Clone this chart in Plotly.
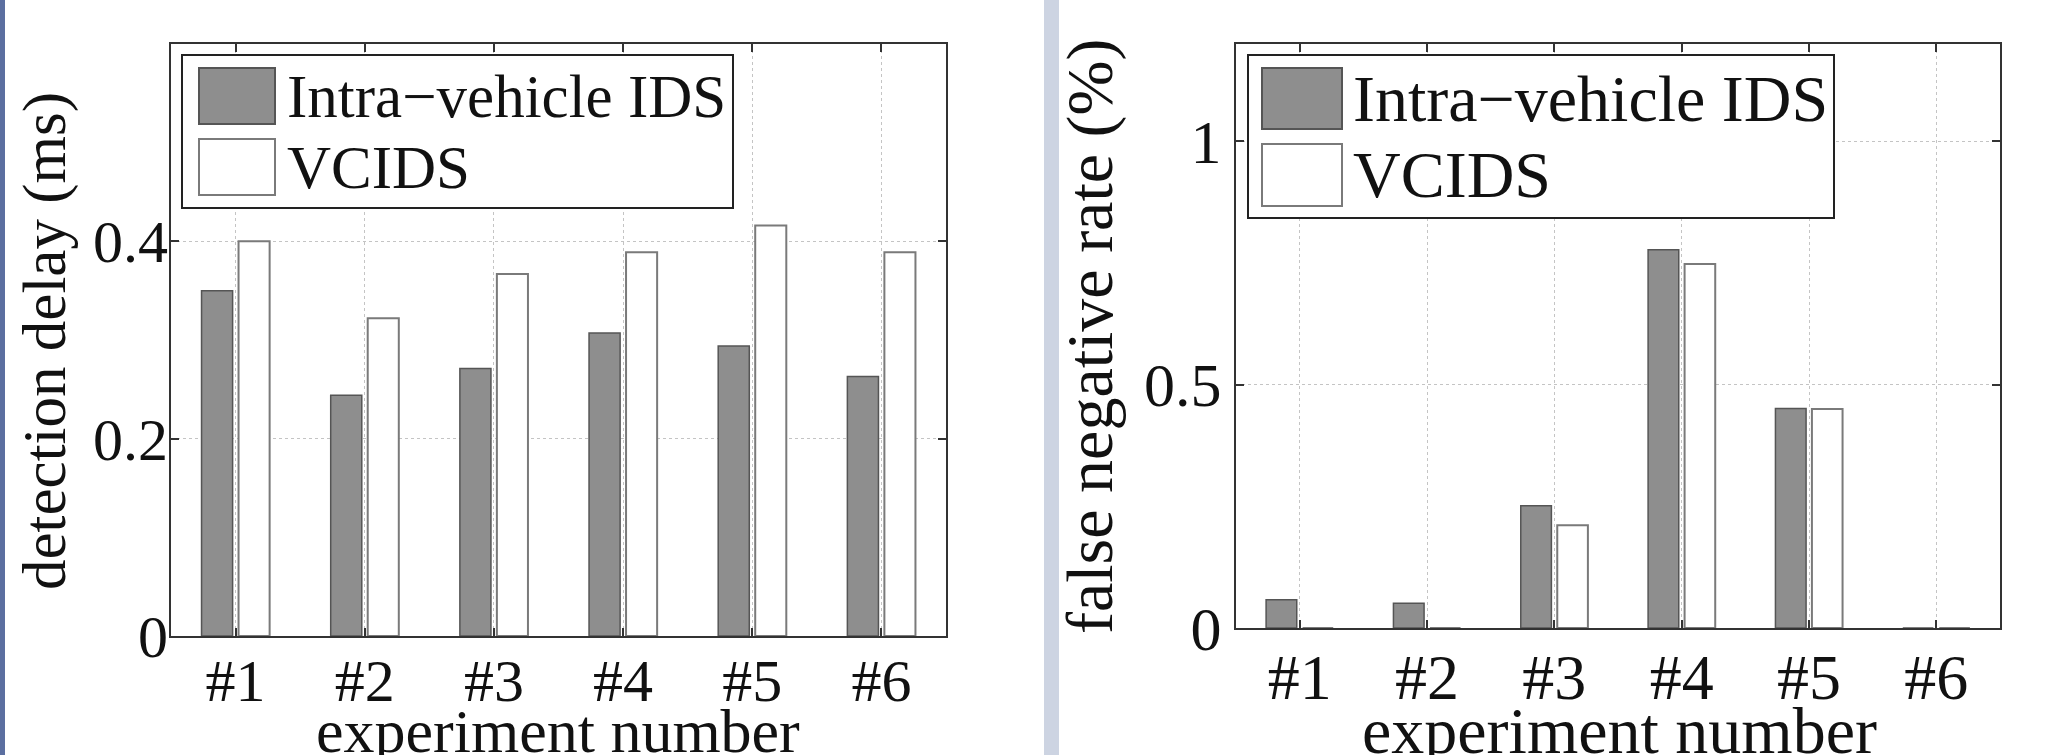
import plotly.graph_objects as go

W, H = 2047, 755

categories = ["#1", "#2", "#3", "#4", "#5", "#6"]
series_names = ["Intra\u2212vehicle IDS", "VCIDS"]
delay_intra = [0.350, 0.244, 0.271, 0.307, 0.294, 0.263]
delay_vcids = [0.400, 0.322, 0.367, 0.389, 0.416, 0.389]
fnr_intra = [0.058, 0.051, 0.251, 0.777, 0.451, 0.0]
fnr_vcids = [0.0, 0.0, 0.211, 0.748, 0.450, 0.0]
left_yticks = [0, 0.2, 0.4]
right_yticks = [0, 0.5, 1]
left_ylabel = "detection delay (ms)"
right_ylabel = "false negative rate (%)"
xlabel = "experiment number"

GRAY = "#8e8e8e"
GRAY_LINE = "#555555"
WHITE_LINE = "#7a7a7a"
FONT = "Liberation Serif, Times New Roman, DejaVu Serif, serif"
TXT = "#111111"


def px(x):
    return x / W


def py(y):
    return 1 - y / H


fig = go.Figure()

for xa, ya, vals_a, vals_b in [("x", "y", delay_intra, delay_vcids),
                               ("x2", "y2", fnr_intra, fnr_vcids)]:
    fig.add_trace(go.Bar(x=categories, y=vals_a, name=series_names[0], xaxis=xa, yaxis=ya,
                         marker=dict(color=GRAY, line=dict(color=GRAY_LINE, width=1.5)),
                         showlegend=False, offsetgroup="a"))
    fig.add_trace(go.Bar(x=categories, y=vals_b, name=series_names[1], xaxis=xa, yaxis=ya,
                         marker=dict(color="white", line=dict(color=WHITE_LINE, width=2)),
                         showlegend=False, offsetgroup="b"))

axis_common = dict(showline=True, linecolor="#333333", linewidth=2, mirror="ticks",
                   ticks="inside", ticklen=8, tickcolor="#333333", tickwidth=1.5,
                   showgrid=True, gridcolor="#c4c4c4", gridwidth=1, griddash="dot",
                   zeroline=False, automargin=False)

fig.update_layout(
    width=W, height=H, autosize=False,
    margin=dict(l=0, r=0, t=0, b=0, pad=0, autoexpand=False),
    paper_bgcolor="white", plot_bgcolor="white",
    barmode="group", bargap=0.427, bargroupgap=0.16,
    font=dict(family=FONT, color=TXT),
    xaxis=dict(domain=[px(171), px(946)], anchor="y", type="category",
               range=[-0.5, 5.5], tickfont=dict(size=60, family=FONT),
               ticklabelstandoff=-9, **axis_common),
    yaxis=dict(domain=[py(636), py(44)], anchor="x", range=[0, 0.6],
               tickvals=left_yticks, tickfont=dict(size=60, family=FONT),
               ticklabelstandoff=-11, **axis_common),
    xaxis2=dict(domain=[px(1236), px(2000)], anchor="y2", type="category",
                range=[-0.5, 5.5], tickfont=dict(size=64, family=FONT),
                ticklabelstandoff=-8, **axis_common),
    yaxis2=dict(domain=[py(628), py(44)], anchor="x2", range=[0, 1.2],
                tickvals=right_yticks, tickfont=dict(size=62, family=FONT),
                **axis_common),
)

shapes = [
    # page decorations: slide edge strips
    dict(type="rect", xref="paper", yref="paper", x0=px(0), x1=px(5), y0=0, y1=1,
         fillcolor="#5b6fa0", line=dict(width=0), layer="below"),
    dict(type="rect", xref="paper", yref="paper", x0=px(1044), x1=px(1059), y0=0, y1=1,
         fillcolor="#cdd4e2", line=dict(width=0), layer="below"),
]
annotations = [
    dict(xref="paper", yref="paper", x=px(558), y=py(731), xanchor="center", yanchor="middle",
         showarrow=False, text=xlabel, font=dict(family=FONT, size=62, color=TXT)),
    dict(xref="paper", yref="paper", x=px(1619), y=py(730), xanchor="center", yanchor="middle",
         showarrow=False, text=xlabel, font=dict(family=FONT, size=66, color=TXT)),
    dict(xref="paper", yref="paper", x=px(45), y=py(341), xanchor="center", yanchor="middle",
         textangle=-90, showarrow=False, text=left_ylabel, font=dict(family=FONT, size=61, color=TXT)),
    dict(xref="paper", yref="paper", x=px(1090), y=py(337), xanchor="center", yanchor="middle",
         textangle=-90, showarrow=False, text=right_ylabel, font=dict(family=FONT, size=66, color=TXT)),
]

# custom legends (large swatches like the original)
legends = [
    dict(box=(182, 733, 55, 208), sw=(199, 275), rows=[(68, 124), (139, 195)], tx=285, fs=61),
    dict(box=(1248, 1834, 55, 218), sw=(1262, 1342), rows=[(68, 129), (144, 206)], tx=1351, fs=66),
]
for lg in legends:
    x0, x1, y0, y1 = lg["box"]
    shapes.append(dict(type="rect", xref="paper", yref="paper", x0=px(x0), x1=px(x1),
                       y0=py(y1), y1=py(y0), fillcolor="white",
                       line=dict(color="#222222", width=2), layer="above"))
    for i, (ra, rb) in enumerate(lg["rows"]):
        fill = GRAY if i == 0 else "white"
        lc = GRAY_LINE if i == 0 else WHITE_LINE
        shapes.append(dict(type="rect", xref="paper", yref="paper",
                           x0=px(lg["sw"][0]), x1=px(lg["sw"][1]), y0=py(rb), y1=py(ra),
                           fillcolor=fill, line=dict(color=lc, width=2), layer="above"))
        annotations.append(dict(xref="paper", yref="paper", x=px(lg["tx"]), y=py((ra + rb) / 2),
                                xanchor="left", yanchor="middle", showarrow=False,
                                text=series_names[i],
                                font=dict(family=FONT, size=lg["fs"], color=TXT)))

fig.update_layout(shapes=shapes, annotations=annotations)

fig.write_html("out.html", config={"displayModeBar": False},
               post_script="document.body.style.margin='0';document.body.style.overflow='hidden';")
